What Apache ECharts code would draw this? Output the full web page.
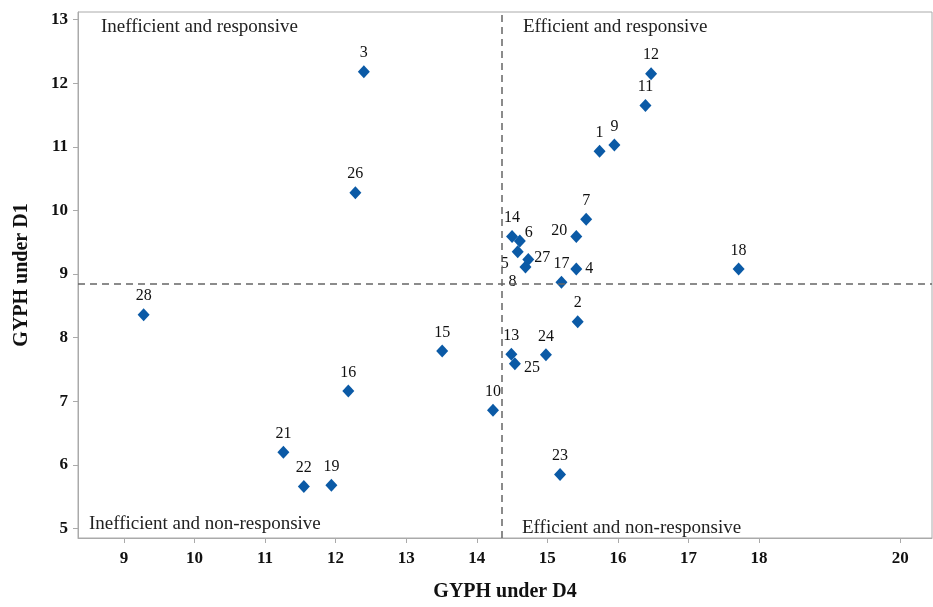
<!doctype html>
<html lang="en">

<head>
	<meta charset="UTF-8">
	<title>GYPH under D4 vs D1</title>
	<script src="https://cdn.jsdelivr.net/npm/echarts@6/dist/echarts.min.js"></script>
	<style>
		html,
		body {
			margin: 0;
			padding: 0;
			width: 100%;
			height: 100%;
		}

		#main {
			width: 933px;
			height: 607px;
		}
	</style>
</head>

<body>
	<div id="main"></div>
	<script type="text/javascript">
		// point ids and values
		var ids = [1, 2, 3, 4, 5, 6, 7, 8, 9, 10, 11, 12, 13, 14, 15, 16, 17, 18, 19, 20, 21, 22, 23, 24, 25, 26, 27, 28];
		var gyphD4 = [15.74, 15.43, 12.40, 15.41, 14.58, 14.61, 15.55, 14.69, 15.95, 14.23, 16.39, 16.47, 14.49, 14.50,
			13.51, 12.18, 15.20, 17.71, 11.94, 15.41, 11.26, 11.55, 15.18, 14.98, 14.54, 12.28, 14.73, 9.28];
		var gyphD1 = [10.93, 8.25, 12.18, 9.08, 9.35, 9.52, 9.86, 9.11, 11.03, 6.86, 11.65, 12.15, 7.74, 9.59,
			7.79, 7.16, 8.87, 9.08, 5.68, 9.59, 6.20, 5.66, 5.85, 7.73, 7.59, 10.28, 9.23, 8.36];
		var xTicks = [9, 10, 11, 12, 13, 14, 15, 16, 17, 18, 20];
		var yTicks = [5, 6, 7, 8, 9, 10, 11, 12, 13];
		var cutD4 = 14.36;
		var cutD1 = 8.85;

		// where a label sits when not above its point
		var labelPlace = { 4: 'right', 5: 'left', 8: 'left', 20: 'left', 25: 'right', 27: 'right', 6: 'right' };
		var labelOffset = { 5: [0, 12], 8: [0, 15], 20: [0, -6], 25: [0, 4], 27: [-3, -2], 6: [-4, -8] };

		var serif = '"Liberation Serif", "DejaVu Serif", serif';
		var points = ids.map(function (id, i) {
			var p = { value: [gyphD4[i], gyphD1[i]], name: String(id) };
			if (labelPlace[id]) {
				p.label = { position: labelPlace[id], offset: labelOffset[id] || [0, 0], distance: 3 };
			}
			return p;
		});

		var quadFont = '19px ' + serif;

		var myChart = echarts.init(document.getElementById('main'));
		var option = {
			animation: false,
			grid: {
				left: 78,
				right: 1,
				top: 12,
				bottom: 60,
				show: true,
				borderColor: '#aaa',
				borderWidth: 1
			},
			xAxis: {
				type: 'value',
				min: 8.35,
				max: 20.45,
				name: 'GYPH under D4',
				nameLocation: 'middle',
				nameGap: 44,
				nameTextStyle: { fontFamily: serif, fontWeight: 'bold', fontSize: 20, color: '#111' },
				axisLine: { show: true, lineStyle: { color: '#aaa' } },
				axisTick: { show: true, length: 5, customValues: xTicks, lineStyle: { color: '#aaa' } },
				axisLabel: { customValues: xTicks, fontFamily: serif, fontWeight: 'bold', fontSize: 17, color: '#111', margin: 12 },
				splitLine: { show: false }
			},
			yAxis: {
				type: 'value',
				min: 4.85,
				max: 13.12,
				name: 'GYPH under D1',
				nameLocation: 'middle',
				nameGap: 46,
				nameTextStyle: { fontFamily: serif, fontWeight: 'bold', fontSize: 20, color: '#111' },
				axisLine: { show: true, lineStyle: { color: '#aaa' } },
				axisTick: { show: true, length: 5, customValues: yTicks, lineStyle: { color: '#aaa' } },
				axisLabel: { customValues: yTicks, fontFamily: serif, fontWeight: 'bold', fontSize: 17, color: '#111', margin: 10 },
				splitLine: { show: false }
			},
			graphic: [
				{ type: 'text', left: 101, top: 18, style: { text: 'Inefficient and responsive', font: quadFont, fill: '#222' } },
				{ type: 'text', left: 523, top: 18, style: { text: 'Efficient and responsive', font: quadFont, fill: '#222' } },
				{ type: 'text', left: 89, top: 515, style: { text: 'Inefficient and non-responsive', font: quadFont, fill: '#222' } },
				{ type: 'text', left: 522, top: 519, style: { text: 'Efficient and non-responsive', font: quadFont, fill: '#222' } }
			],
			series: [
				{
					type: 'scatter',
					symbol: 'diamond',
					symbolSize: [12, 13],
					itemStyle: { color: '#0b5aa6', opacity: 1 },
					label: {
						show: true,
						position: 'top',
						distance: 4,
						formatter: '{b}',
						fontFamily: serif,
						fontSize: 16,
						color: '#111'
					},
					data: points,
					markLine: {
						silent: true,
						symbol: 'none',
						label: { show: false },
						lineStyle: { color: '#666', type: [7, 5], width: 1.5, opacity: 1 },
						data: [{ xAxis: cutD4 }, { yAxis: cutD1 }]
					}
				}
			]
		};
		myChart.setOption(option);
		window.onresize = () => myChart.resize();
	</script>
</body>

</html>
